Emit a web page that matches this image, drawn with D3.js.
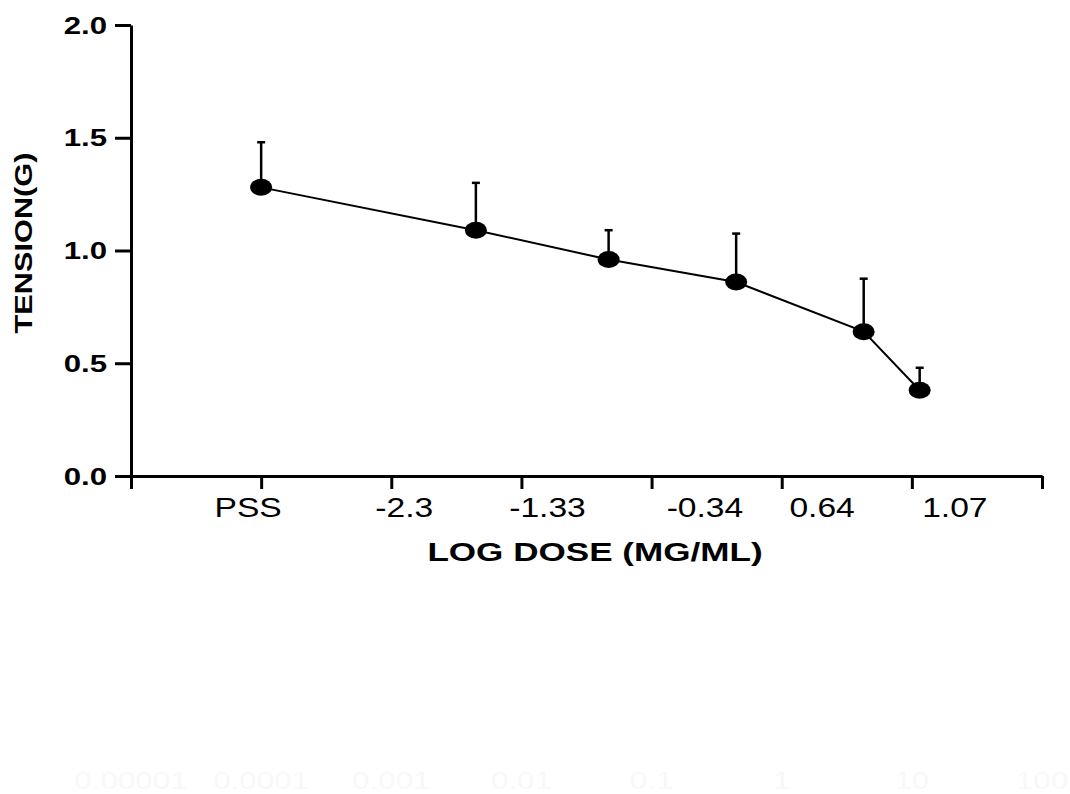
<!DOCTYPE html>
<html>
<head>
<meta charset="utf-8">
<script src="https://cdn.jsdelivr.net/npm/d3@7"></script>
<style>
  html, body { margin: 0; padding: 0; background: #fff; }
  svg { display: block; font-family: "Liberation Sans", Arial, sans-serif; }
</style>
</head>
<body>
<div id="chart"></div>
<script>
// values
const tickLabels = ["PSS", "-2.3", "-1.33", "-0.34", "0.64", "1.07"];
const tickLabelPos = [0.9, 2.1, 3.2, 4.41, 5.31, 6.33];
const doseX = [1.0, 2.65, 3.67, 4.65, 5.63, 6.06];
const tension = [1.28, 1.09, 0.96, 0.86, 0.64, 0.38];
const sem = [0.2, 0.21, 0.13, 0.215, 0.235, 0.1];
const xTicks = [0, 1, 2, 3, 4, 5, 6, 7];
const yTicks = [0, 0.5, 1.0, 1.5, 2.0];
// leftover (almost white) labels of an old log axis
const oldLogLabels = ["0.00001", "0.0001", "0.001", "0.01", "0.1", "1", "10", "100"];

const width = 1070, height = 794;
const svg = d3.select("#chart").append("svg")
  .attr("width", width)
  .attr("height", height);

const x = d3.scaleLinear().domain([0, 7]).range([131, 1042]);
const y = d3.scaleLinear().domain([0, 2]).range([476, 25]);

// axes
const xAxis = svg.append("g")
  .attr("transform", `translate(0,${y(0)})`)
  .call(d3.axisBottom(x).tickValues(xTicks).tickFormat("").tickSize(13).tickSizeOuter(0));
const yAxis = svg.append("g")
  .attr("transform", `translate(${x(0)},0)`)
  .call(d3.axisLeft(y).tickValues(yTicks).tickFormat("").tickSize(16).tickSizeOuter(0));
[xAxis, yAxis].forEach((g) => {
  g.selectAll("path, line").attr("stroke", "#000").attr("stroke-width", 3);
});

// y tick labels (bold, slightly wide)
svg.append("g")
  .selectAll("text")
  .data(yTicks)
  .join("text")
  .attr("transform", (d) => `translate(107,${y(d) + 8.5}) scale(1.3,1)`)
  .attr("text-anchor", "end")
  .attr("font-size", 24)
  .attr("font-weight", "bold")
  .text((d) => d3.format(".1f")(d));

// x tick labels
svg.append("g")
  .selectAll("text")
  .data(tickLabels)
  .join("text")
  .attr("transform", (d, i) => `translate(${x(tickLabelPos[i])},517) scale(1.2,1)`)
  .attr("text-anchor", "middle")
  .attr("font-size", 28)
  .text((d) => d);

// axis titles
svg.append("text")
  .attr("transform", "translate(595,561) scale(1.35,1)")
  .attr("text-anchor", "middle")
  .attr("font-size", 26)
  .attr("font-weight", "bold")
  .text("LOG DOSE (MG/ML)");

svg.append("text")
  .attr("transform", "translate(32,243) rotate(-90) scale(1.28,1)")
  .attr("text-anchor", "middle")
  .attr("font-size", 24)
  .attr("font-weight", "bold")
  .text("TENSION(G)");

// faint old labels at the bottom
svg.append("g")
  .selectAll("text")
  .data(oldLogLabels)
  .join("text")
  .attr("transform", (d, i) => `translate(${x(i)},789) scale(1.27,1)`)
  .attr("text-anchor", "middle")
  .attr("font-size", 24.7)
  .attr("fill", "#f8f8f8")
  .text((d) => d);

const pts = tension.map((t, i) => ({ x: doseX[i], t, e: sem[i] }));

// error bars (upper only)
const bars = svg.append("g").attr("stroke", "#000").attr("stroke-width", 2.5);
bars.selectAll("line.stem")
  .data(pts)
  .join("line")
  .attr("class", "stem")
  .attr("x1", (d) => x(d.x)).attr("x2", (d) => x(d.x))
  .attr("y1", (d) => y(d.t)).attr("y2", (d) => y(d.t + d.e));
bars.selectAll("line.cap")
  .data(pts)
  .join("line")
  .attr("class", "cap")
  .attr("x1", (d) => x(d.x) - 4).attr("x2", (d) => x(d.x) + 4)
  .attr("y1", (d) => y(d.t + d.e)).attr("y2", (d) => y(d.t + d.e));

// connecting line
svg.append("path")
  .datum(pts)
  .attr("fill", "none")
  .attr("stroke", "#000")
  .attr("stroke-width", 2)
  .attr("d", d3.line().x((d) => x(d.x)).y((d) => y(d.t)));

// markers
svg.append("g")
  .selectAll("ellipse")
  .data(pts)
  .join("ellipse")
  .attr("cx", (d) => x(d.x))
  .attr("cy", (d) => y(d.t))
  .attr("rx", 11)
  .attr("ry", 8.5)
  .attr("fill", "#000");
</script>
</body>
</html>
